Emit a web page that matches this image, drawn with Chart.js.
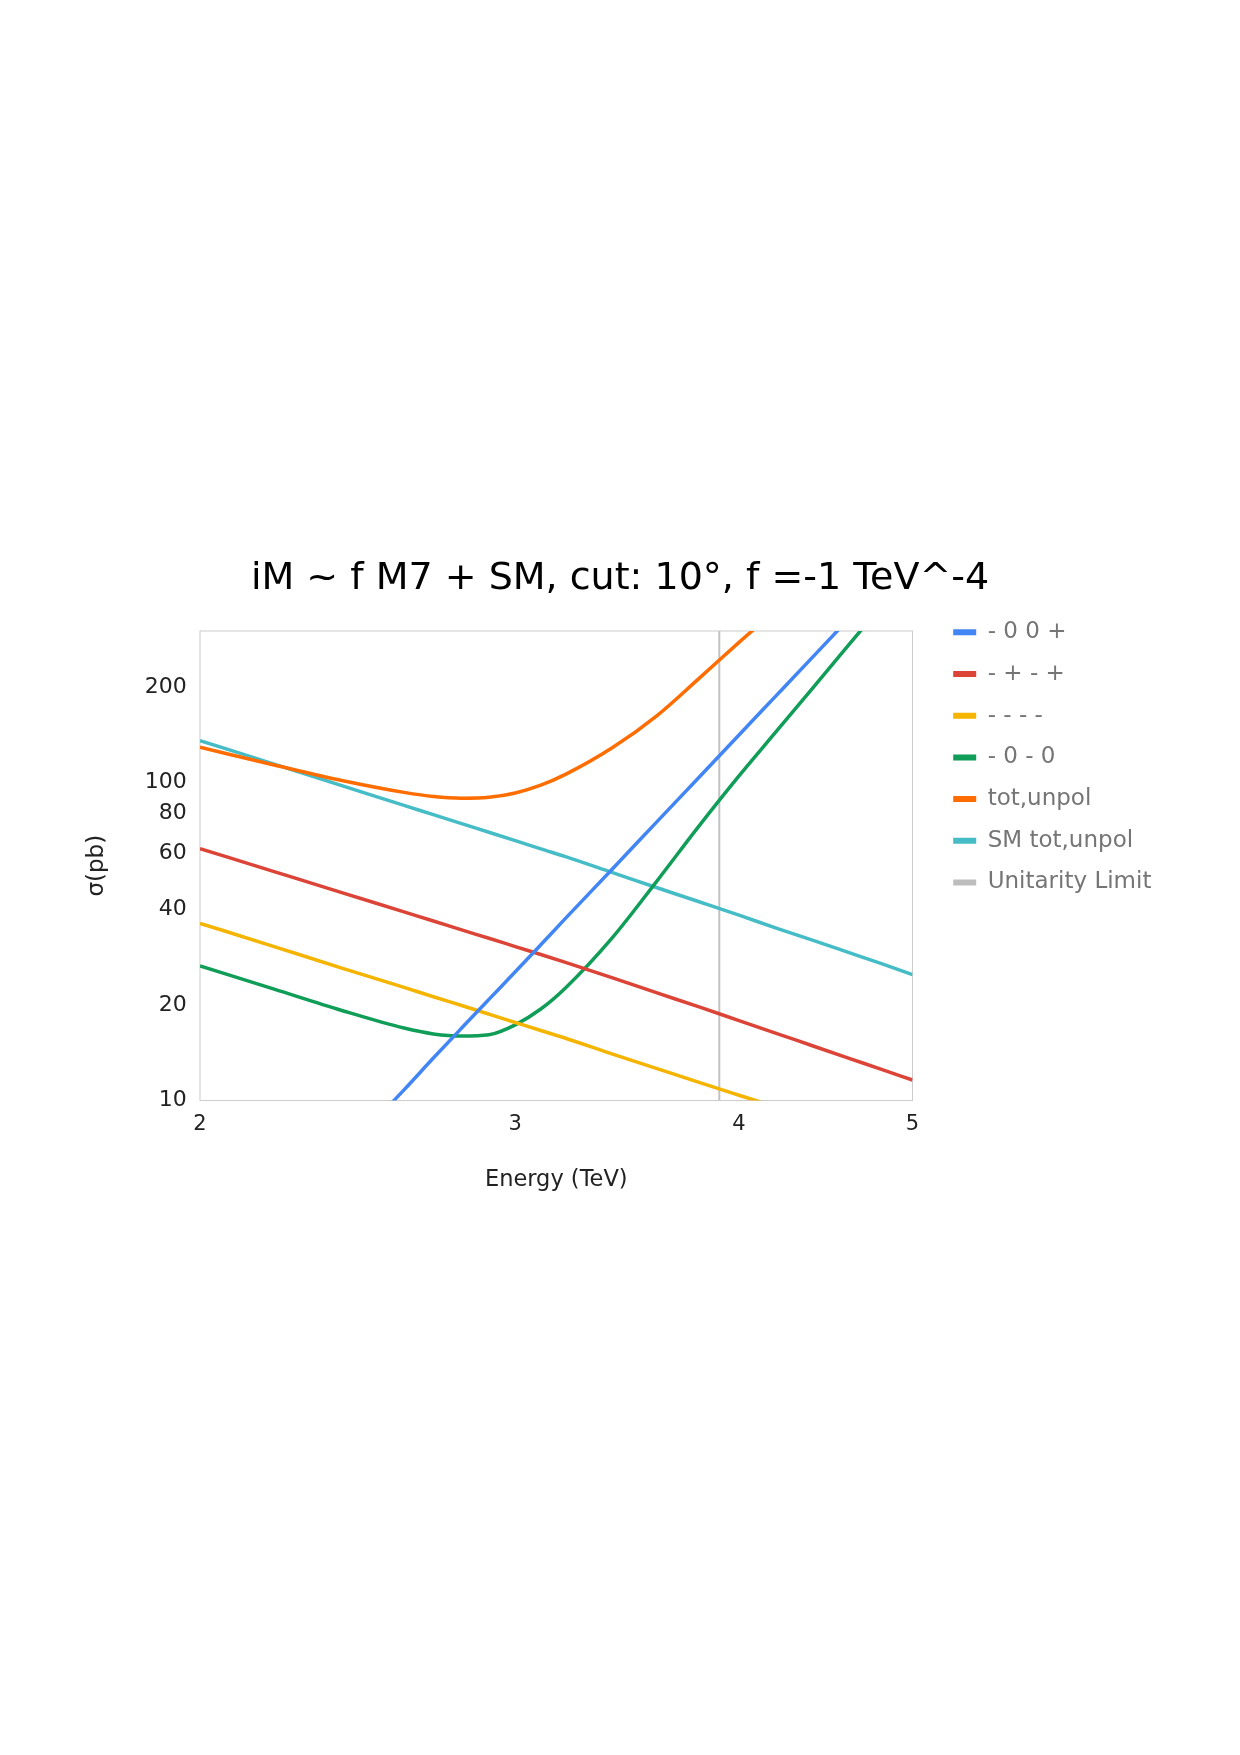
<!DOCTYPE html>
<html>
<head>
<meta charset="utf-8">
<title>iM ~ f M7 + SM</title>
<script src="https://cdn.jsdelivr.net/npm/chart.js@4.4.1/dist/chart.umd.min.js"></script>
<style>
    html, body { margin: 0; padding: 0; background: #fff; }
    #wrap { position: relative; width: 1240px; height: 1755px; }
</style>
</head>
<body>
<div id="wrap"><canvas id="sigmaChart"></canvas></div>
<script>
(function () {
    // energies (TeV) where the curves were read
    const energies = [2.0, 2.2, 2.4, 2.6, 2.7, 2.8, 2.9, 3.0, 3.1, 3.2, 3.4, 3.6, 3.8, 4.0, 4.2, 4.4, 4.6, 4.8, 5.0];

    // cross sections, pb
    const hel00p   = [2.27, 4.00, 6.73, 10.8, 13.6, 16.9, 20.8, 25.4, 30.9, 37.4, 53.6, 75.4, 104.0, 141.3, 188.9, 249.2, 324.9, 419, 535];
    const helpmpm  = [62.0, 52.5, 45.1, 39.2, 36.7, 34.4, 32.4, 30.5, 28.8, 27.2, 24.3, 21.8, 19.7, 17.84, 16.24, 14.84, 13.62, 12.55, 11.6];
    const helmmmm  = [36.1, 30.5, 26.1, 22.7, 21.2, 19.9, 18.7, 17.6, 16.6, 15.7, 14.0, 12.6, 11.4, 10.39, 9.52, 8.75, 8.08, 7.49, 6.96];
    const hel0m0   = [26.5, 22.4, 19.2, 16.9, 16.2, 15.95, 16.1, 17.3, 19.4, 22.6, 32.6, 49.1, 73.1, 105.0, 145.7, 199.2, 268.7, 358, 470];
    const totUnpol = [129.2, 113.7, 101.6, 93.2, 90.4, 89.3, 89.9, 92.8, 98.2, 106.2, 129.0, 162.6, 212.9, 276.2, 352, 452, 580, 743, 946];
    const smUnpol  = [135.6, 114.4, 97.9, 84.8, 79.3, 74.3, 69.8, 65.7, 61.9, 58.5, 52.1, 46.7, 42.2, 38.3, 34.8, 31.9, 29.3, 27.0, 24.9];

    const unitarityEnergy = 3.9;
    const unitarityRange = [10, 300];

    const xTicks = [2, 3, 4, 5];
    const yTicks = [10, 20, 40, 60, 80, 100, 200];

    const seriesMap = [
        ['- 0 0 +', '#4285f4', hel00p],
        ['- + - +', '#db4437', helpmpm],
        ['- - - -', '#f4b400', helmmmm],
        ['- 0 - 0', '#0f9d58', hel0m0],
        ['tot,unpol', '#ff6d01', totUnpol],
        ['SM tot,unpol', '#46bdc6', smUnpol]
    ];

    const curve = ([label, color, values]) => ({
        label,
        data: energies.map((e, i) => ({x: e, y: values[i]})),
        borderColor: color,
        backgroundColor: color,
        borderWidth: 3.5,
        pointRadius: 0,
        cubicInterpolationMode: 'monotone',
        clip: 0
    });

    const datasets = seriesMap.map(curve);
    datasets.push({
        label: 'Unitarity Limit',
        data: unitarityRange.map(s => ({x: unitarityEnergy, y: s})),
        borderColor: '#c2c2c2',
        backgroundColor: '#bdbdbd',
        borderWidth: 2,
        pointRadius: 0,
        tension: 0,
        clip: 0
    });

    // light frame round the plot area
    const plotFrame = {
        id: 'plotFrame',
        beforeDatasetsDraw(chart) {
            const {ctx, chartArea: a} = chart;
            ctx.save();
            ctx.strokeStyle = '#cccccc';
            ctx.lineWidth = 1;
            ctx.strokeRect(a.left, a.top, a.right - a.left, a.bottom - a.top);
            ctx.restore();
        }
    };

    Chart.defaults.font.family = "'DejaVu Sans', sans-serif";
    Chart.defaults.color = '#222';

    const ctx = document.getElementById('sigmaChart').getContext('2d');
    new Chart(ctx, {
        type: 'line',
        data: {datasets},
        plugins: [plotFrame],
        options: {
            responsive: true,
            maintainAspectRatio: false,
            animation: false,
            layout: {
                padding: {top: 602.1, bottom: 554.5, left: 0, right: 0}
            },
            plugins: {
                title: {
                    display: true,
                    text: 'iM ~ f M7 + SM, cut: 10°, f =-1 TeV^-4',
                    color: '#000',
                    font: {size: 38, weight: 'normal'},
                    // pulled up above the legend top so both line up with the reference
                    padding: {top: -45.9, bottom: 29.2}
                },
                legend: {
                    position: 'right',
                    align: 'start',
                    labels: {
                        color: '#757575',
                        font: {size: 23},
                        boxWidth: 23,
                        boxHeight: 6,
                        padding: 18.7,
                        generateLabels: chart => Chart.defaults.plugins.legend.labels.generateLabels(chart)
                            .map(item => Object.assign(item, {lineWidth: 0}))
                    }
                },
                tooltip: {enabled: false}
            },
            scales: {
                x: {
                    type: 'logarithmic',
                    position: 'bottom',
                    min: 2,
                    max: 5,
                    afterBuildTicks: scale => { scale.ticks = xTicks.map(value => ({value})); },
                    afterFit: scale => { scale.height = 100; },
                    ticks: {
                        font: {size: 21},
                        padding: 11,
                        maxRotation: 0,
                        callback: value => String(value)
                    },
                    grid: {display: false, drawTicks: false},
                    border: {display: false},
                    title: {
                        display: true,
                        text: 'Energy (TeV)',
                        font: {size: 22.5},
                        padding: {top: 0, bottom: 7}
                    }
                },
                y: {
                    type: 'logarithmic',
                    position: 'left',
                    min: 10,
                    max: 300,
                    afterBuildTicks: scale => { scale.ticks = yTicks.map(value => ({value})); },
                    afterFit: scale => { scale.width = 200; },
                    ticks: {
                        font: {size: 22},
                        padding: 13.3,
                        callback: value => String(value)
                    },
                    grid: {display: false, drawTicks: false},
                    border: {display: false},
                    title: {
                        display: true,
                        text: 'σ(pb)',
                        font: {size: 23},
                        padding: {top: 83.2, bottom: 0}
                    }
                },
                // gap between the plot and the legend
                y2: {
                    type: 'linear',
                    position: 'right',
                    display: false,
                    weight: 0,
                    afterFit: scale => { scale.width = 22; }
                },
                // right-hand spacer, keeps the plot edge at the same place
                y3: {
                    type: 'linear',
                    position: 'right',
                    display: false,
                    weight: 2000,
                    afterFit: scale => {
                        const lw = scale.chart.legend ? scale.chart.legend.width : 214;
                        scale.width = Math.max(0, 305.5 - lw);
                    }
                }
            }
        }
    });
})();
</script>
</body>
</html>
